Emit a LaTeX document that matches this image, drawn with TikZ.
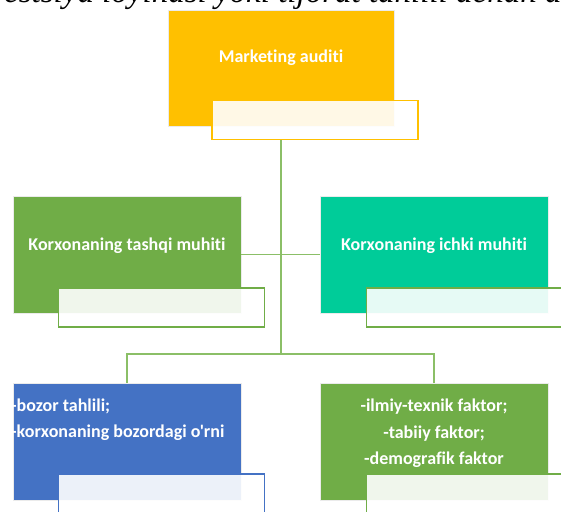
\documentclass[tikz,border=0pt]{standalone}
\usepackage{fontspec}
\setmainfont{Carlito}
\newfontfamily\lblfont{Carlito}[Ligatures=NoCommon]
\newfontfamily\serifit{Liberation Serif}
\definecolor{cyel}{HTML}{FFC000}
\definecolor{cgrn}{HTML}{70AD47}
\definecolor{cteal}{HTML}{00CC99}
\definecolor{cblue}{HTML}{4472C4}
\definecolor{cline}{HTML}{8BBF67}
\begin{document}
\begin{tikzpicture}[x=1pt,y=-1pt,
  mainbox/.style={draw=black!8,line width=0.8pt,minimum width=228pt,minimum height=117pt,inner sep=0pt},
  overbox/.style={fill=white,fill opacity=0.9,draw opacity=1,line width=1.6pt,minimum width=206pt,minimum height=39pt,inner sep=0pt},
  lbl/.style={text=white,font=\lblfont\bfseries\fontsize{18}{26.5}\selectfont,inner sep=0pt},
  conn/.style={draw=cline,line width=1.5pt}]
\useasboundingbox (0,0) rectangle (561,511);
\begin{scope}
\clip (0,0) rectangle (561,511);
% clipped running text at top
\node[anchor=base west,inner sep=0pt,font=\serifit\itshape\fontsize{33}{36}\selectfont] (hdr) at (4,3) {estsiya loyihasi yoki tijorat tahlili dehan a};
% boxes
\node[mainbox,fill=cyel,minimum width=226pt,minimum height=116pt] (m0) at (281,68) {};
\node[lbl] (t0) at (281,58) {Marketing auditi};
\node[overbox,draw=cyel] (o0) at (315,120) {};

\node[mainbox,fill=cgrn] (m1) at (127,254.5) {};
\node[lbl] (t1) at (127,246) {Korxonaning tashqi muhiti};
\node[overbox,draw=cgrn] (o1) at (161.5,307.5) {};

\node[mainbox,fill=cteal] (m2) at (434,254.5) {};
\node[lbl] (t2) at (434,246) {Korxonaning ichki muhiti};
\node[overbox,draw=cgrn] (o2) at (469.5,307.5) {};

\node[mainbox,fill=cblue] (m3) at (127,441.5) {};
\node[lbl,align=left,anchor=west] (t3) at (11,419.5) {-bozor tahlili;\\-korxonaning bozordagi o\char39 rni};
\node[overbox,draw=cblue] (o3) at (161.5,493.5) {};

\node[mainbox,fill=cgrn] (m4) at (434,441.5) {};
\node[lbl,align=center] (t4) at (434,433.5) {-ilmiy-texnik faktor;\\-tabiiy faktor;\\-demografik faktor};
\node[overbox,draw=cgrn] (o4) at (469.5,493.5) {};

% connectors
\coordinate (j2) at (281,354);
\draw[conn] (o0.south -| m0.center) -- (j2);
\draw[conn] (m1.east) -- (m2.west);
\draw[conn] (j2) -| (m3.north);
\draw[conn] (j2) -| (m4.north);
\end{scope}
\end{tikzpicture}
\end{document}
